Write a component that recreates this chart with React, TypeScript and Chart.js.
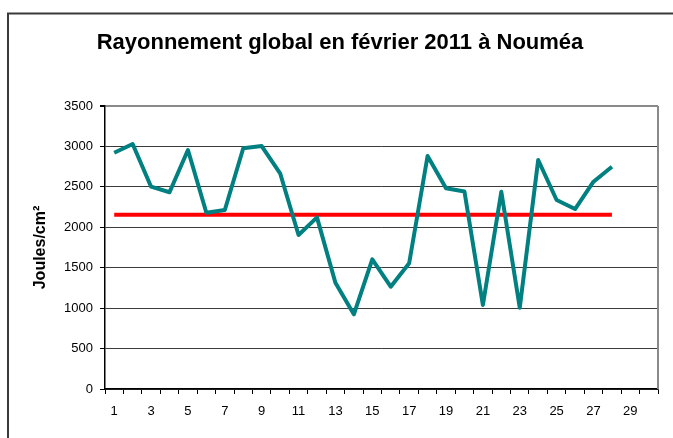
import React, { useEffect, useRef } from "react";
import { Chart, registerables } from "chart.js";

Chart.register(...registerables);

const TITLE = "Rayonnement global en février 2011 à Nouméa";
const Y_TITLE = "Joules/cm²";
const days = Array.from({ length: 30 }, (_, i) => String(i + 1));
const rayonnement = [
  2922, 3030, 2502, 2433, 2956, 2180, 2214, 2977, 3005, 2668,
  1905, 2123, 1315, 924, 1604, 1265, 1555, 2882, 2482, 2443,
  1039, 2440, 1005, 2832, 2337, 2226, 2564, 2749,
];
const moyenne = 2156;
const moyenneSeries = rayonnement.map(() => moyenne);

const framePlugin = {
  id: "frame",
  beforeDraw(chart: any) {
    const ctx = chart.ctx;
    ctx.save();
    ctx.strokeStyle = "#3a3a3a";
    ctx.lineWidth = 2;
    ctx.beginPath();
    ctx.moveTo(8, 438);
    ctx.lineTo(8, 13.5);
    ctx.lineTo(673, 13.5);
    ctx.stroke();
    ctx.restore();
  },
  beforeDatasetsDraw(chart: any) {
    const { ctx, chartArea } = chart;
    ctx.save();
    ctx.strokeStyle = "#8a8a8a";
    ctx.lineWidth = 2;
    ctx.beginPath();
    ctx.moveTo(chartArea.right, chartArea.top);
    ctx.lineTo(chartArea.right, chartArea.bottom);
    ctx.stroke();
    ctx.restore();
  },
};

export default function App() {
  const ref = useRef<HTMLCanvasElement>(null);
  useEffect(() => {
    if (!ref.current) return;
    const chart = new Chart(ref.current, {
      type: "line",
      data: {
        labels: days,
        datasets: [
          {
            data: rayonnement,
            borderColor: "#008080",
            borderWidth: 4,
            borderJoinStyle: "round",
            pointRadius: 0,
            tension: 0,
            fill: false,
          },
          {
            data: moyenneSeries,
            borderColor: "#ff0000",
            borderWidth: 4,
            pointRadius: 0,
            tension: 0,
            fill: false,
          },
        ],
      },
      options: {
        responsive: false,
        animation: false,
        layout: { padding: { left: 22, right: 15, top: 13, bottom: 0 } },
        plugins: {
          legend: { display: false },
          tooltip: { enabled: false },
          title: {
            display: true,
            text: TITLE,
            color: "#000",
            font: { family: "'Liberation Sans', Arial, sans-serif", size: 22, weight: "bold" },
            padding: { top: 17, bottom: 49.6 },
          },
        },
        scales: {
          x: {
            type: "category",
            offset: true,
            afterFit: (s: any) => { s.height = 49; },
            grid: {
              display: true,
              offset: true,
              drawOnChartArea: false,
              drawTicks: true,
              tickLength: 5,
              color: "#000",
            },
            border: { display: true, color: "#000", width: 1.5 },
            ticks: {
              autoSkip: false,
              maxRotation: 0,
              minRotation: 0,
              padding: 10,
              color: "#000",
              font: { family: "'Liberation Sans', Arial, sans-serif", size: 13 },
              callback: (_v: any, i: number) => (i % 2 === 0 ? days[i] : ""),
            },
          },
          y: {
            min: 0,
            max: 3500,
            afterFit: (s: any) => { s.width = 83; },
            grid: {
              color: (c: any) => (c.tick && c.tick.value === 3500 ? "#8a8a8a" : "#3a3a3a"),
              lineWidth: (c: any) => (c.tick && c.tick.value === 3500 ? 2 : 1),
              tickLength: 5,
              tickColor: "#000",
            },
            border: { display: true, color: "#000", width: 1.5 },
            ticks: {
              stepSize: 500,
              padding: 7,
              color: "#000",
              font: { family: "'Liberation Sans', Arial, sans-serif", size: 13 },
              callback: (v: any) => String(v),
            },
            title: {
              display: true,
              text: Y_TITLE,
              color: "#000",
              font: { family: "'Liberation Sans', Arial, sans-serif", size: 16, weight: "bold" },
              padding: { top: 9, bottom: 0 },
            },
          },
        },
      },
      plugins: [framePlugin],
    });
    return () => chart.destroy();
  }, []);
  return (
    <div style={{ position: "fixed", left: 0, top: 0, width: 673, height: 438, background: "#fff" }}>
      <canvas ref={ref} width={673} height={438} style={{ display: "block" }} />
    </div>
  );
}
